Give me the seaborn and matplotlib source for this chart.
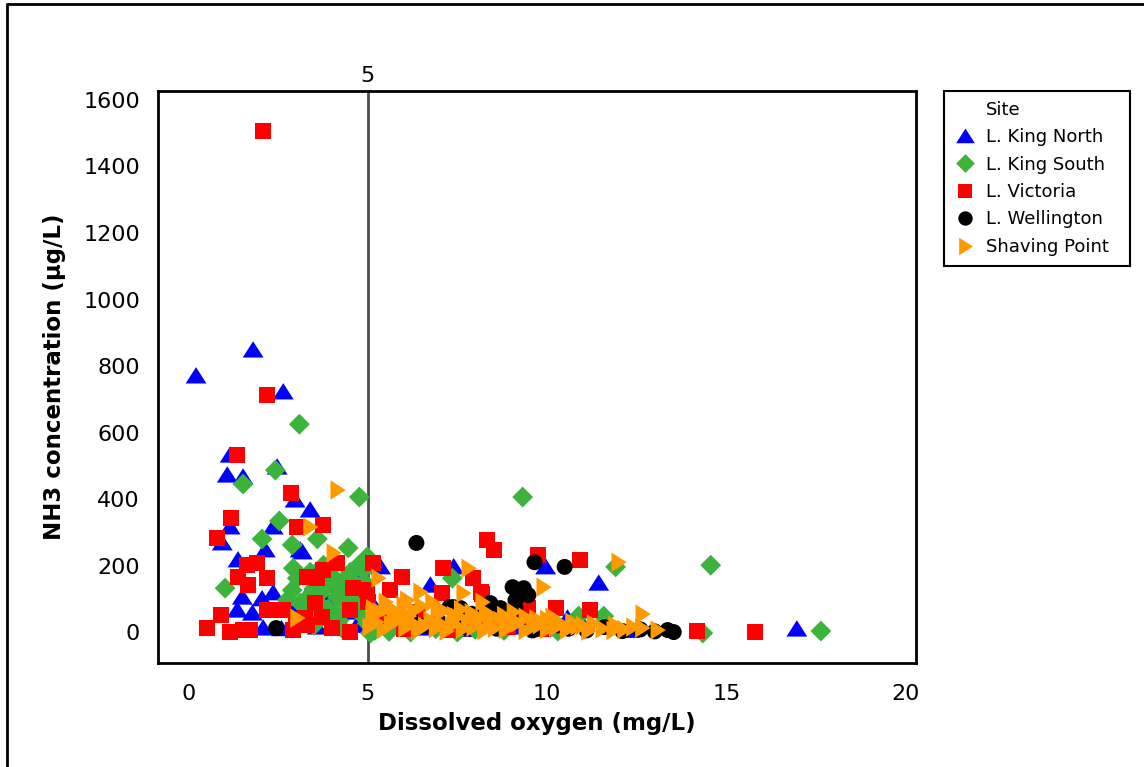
import matplotlib
matplotlib.use("Agg")
import matplotlib.pyplot as plt
from matplotlib.lines import Line2D
import pandas as pd
import seaborn as sns

# ---- data: dissolved oxygen (mg/L) and NH3 (ug/L) per site ----
sites = ["L. King North", "L. King South", "L. Victoria", "L. Wellington", "Shaving Point"]

kn_do = [0.22, 1.81, 2.65, 1.17, 1.09, 1.53, 2.48, 2.98, 3.40, 1.17, 2.37, 0.95, 2.15, 1.39,
         3.18, 1.51, 1.37, 2.06, 2.37, 1.79, 2.09, 3.40, 4.02, 4.80, 5.36, 7.40, 6.75, 9.96,
         11.44, 16.96, 10.57, 3.12, 4.04, 2.60, 3.00, 3.60, 4.40, 4.70, 5.20, 6.00, 6.50, 7.00,
         7.80, 8.50, 9.20, 10.20, 11.00, 12.30, 2.80, 3.90]
kn_nh3 = [770, 848, 722, 532, 472, 466, 496, 397, 367, 316, 316, 268, 247, 217,
          241, 105, 66, 100, 118, 57, 12, 126, 147, 165, 196, 196, 141, 196,
          147, 9, 42, 247, 141, 10, 30, 15, 60, 20, 75, 25, 12, 30,
          8, 20, 15, 10, 22, 5, 80, 90]

ks_do = [3.10, 2.43, 1.53, 4.77, 9.32, 2.54, 2.06, 2.90, 3.60, 4.46, 1.03, 2.93, 7.36, 14.56,
         11.91, 17.63, 14.34, 10.88, 11.58, 3.04, 2.90, 3.88, 4.71, 4.99, 4.43, 4.16, 4.43, 3.12,
         2.76, 3.68, 4.80, 3.49, 4.04, 4.99, 5.08, 3.77, 4.52, 4.88, 3.30, 3.90, 4.20, 4.60,
         3.50, 4.30, 5.30, 5.50, 6.20, 6.90, 7.50, 8.00, 8.80, 9.50, 10.30, 5.80,
         3.30, 3.50, 3.70, 3.90, 4.10, 4.30, 4.50, 4.70, 4.90, 3.40, 4.00, 4.60, 3.60, 4.20,
         4.80, 5.20, 5.60]
ks_nh3 = [625, 487, 445, 406, 406, 334, 280, 262, 280, 253, 132, 192, 162, 201,
          196, 3, -3, 48, 48, 162, 126, 196, 196, 226, 165, 105, 87, 87,
          96, 117, 105, 45, 27, 27, -3, 201, 180, 186, 60, 70, 140, 150,
          20, 10, 50, 15, 0, 10, 0, 8, 5, 12, 3, 40,
          100, 130, 80, 140, 60, 120, 100, 70, 150, 180, 170, 130, 40, 35,
          55, 5, 2]

vi_do = [2.09, 2.20, 1.37, 2.87, 1.20, 0.81, 3.04, 3.77, 1.65, 1.92, 1.39, 1.67, 2.20, 3.32,
         3.60, 3.77, 4.16, 5.16, 4.60, 4.99, 5.97, 7.09, 7.95, 8.34, 8.51, 9.74, 7.06, 8.15,
         0.92, 0.53, 1.17, 1.53, 1.73, 2.20, 2.65, 2.93, 3.54, 3.74, 4.02, 4.52, 4.52, 3.26,
         3.32, 5.02, 10.91, 8.20, 9.46, 10.24, 11.19, 14.17, 15.79, 5.63, 3.00, 5.40, 6.00, 6.80,
         7.30, 8.90, 9.90, 6.40]
vi_nh3 = [1507, 713, 532, 418, 343, 283, 316, 322, 201, 207, 165, 141, 162, 165,
          162, 186, 207, 207, 132, 126, 165, 192, 162, 277, 247, 232, 117, 120,
          51, 12, 0, 6, 6, 66, 66, 6, 87, 45, 12, 66, 0, 42,
          21, 90, 217, 114, 72, 72, 66, 3, 0, 126, 35, 40, 10, 25,
          5, 15, 8, 60]

we_do = [2.45, 6.36, 9.65, 10.49, 9.04, 9.35, 9.48, 9.12, 8.42, 7.28, 7.39, 7.59, 8.70, 9.12,
         13.53, 13.36, 6.20, 6.60, 7.00, 7.70, 8.10, 8.60, 9.00, 9.60, 10.10, 10.60, 11.10, 11.60,
         12.10, 12.60, 13.00, 8.30, 7.90, 9.30, 10.30]
we_nh3 = [12, 268, 210, 196, 135, 132, 111, 96, 87, 75, 75, 72, 72, 72,
          0, 6, 40, 20, 30, 15, 45, 10, 30, 5, 25, 10, 5, 15,
          3, 8, 2, 60, 55, 40, 20]

sp_do = [4.16, 3.40, 4.05, 5.30, 7.81, 6.47, 7.67, 9.90, 3.04, 5.13, 5.50, 8.20, 11.99, 12.66,
         13.08, 6.10, 6.80, 5.72, 9.07, 10.15, 5.05, 5.25, 5.45, 5.65, 5.85, 6.05, 6.25, 6.40,
         6.60, 6.75, 6.90, 7.05, 7.20, 7.35, 7.50, 7.65, 7.80, 7.95, 8.10, 8.25, 8.40, 8.55,
         8.70, 8.85, 9.00, 9.20, 9.40, 9.60, 9.80, 10.00, 10.25, 10.55, 10.85, 11.15, 11.55, 11.85,
         12.15, 12.65, 5.35, 5.80, 6.30, 6.95, 7.40, 7.90, 8.45, 9.10, 9.70, 10.40, 11.00, 6.15,
         7.10, 8.00, 5.15, 5.60, 6.00, 6.50, 7.00, 7.60, 8.30, 8.80, 9.40, 10.00, 10.70, 11.30,
         11.90, 12.40]
sp_nh3 = [427, 316, 238, 162, 192, 120, 117, 135, 42, 51, 90, 90, 210, 54,
          6, 96, 90, 45, 60, 45, 15, 30, 8, 22, 40, 12, 28, 5,
          18, 35, 10, 25, 3, 20, 45, 8, 30, 15, 40, 5, 22, 12,
          35, 8, 18, 28, 5, 15, 22, 8, 14, 6, 18, 3, 10, 5,
          8, 12, 60, 55, 65, 70, 50, 58, 45, 30, 40, 25, 20, 48,
          62, 28, 70, 75, 80, 78, 72, 68, 60, 50, 45, 38, 30, 25,
          20, 15]

x_ticks = [0, 5, 10, 15, 20]
y_ticks = [0, 200, 400, 600, 800, 1000, 1200, 1400, 1600]
do_limit = 5

site_do = [kn_do, ks_do, vi_do, we_do, sp_do]
site_nh3 = [kn_nh3, ks_nh3, vi_nh3, we_nh3, sp_nh3]
df = pd.concat(
    [pd.DataFrame({"Site": s, "DO": d, "NH3": n}) for s, d, n in zip(sites, site_do, site_nh3)],
    ignore_index=True,
)

# ---- marker styles (Minitab-like symbol set) ----
tri_up = [(-1.0, -0.72), (1.0, -0.72), (0.0, 0.85)]
diamond = [(0.0, 1.0), (1.0, 0.0), (0.0, -1.0), (-1.0, 0.0)]
tri_right = [(-0.72, -1.0), (-0.72, 1.0), (0.85, 0.0)]
styles = {
    "L. King North": dict(marker=tri_up, color="#0000FF", ms=15.0),
    "L. King South": dict(marker=diamond, color="#3CB43C", ms=15.0),
    "L. Victoria": dict(marker="s", color="#FF0000", ms=11.5),
    "L. Wellington": dict(marker="o", color="#000000", ms=11.5),
    "Shaving Point": dict(marker=tri_right, color="#FF9900", ms=14.0),
}

sns.set_style("white")
plt.rcParams["font.family"] = ["DejaVu Sans"]
plt.rcParams["text.color"] = "black"
plt.rcParams["axes.labelcolor"] = "black"
plt.rcParams["xtick.color"] = "black"
plt.rcParams["ytick.color"] = "black"

fig = plt.figure(figsize=(11.44, 7.67), dpi=100)
ax = fig.add_axes([158 / 1144, 1 - 663 / 767, (916 - 158) / 1144, (663 - 91) / 767])

for s in sites:
    st = styles[s]
    sns.scatterplot(data=df[df["Site"] == s], x="DO", y="NH3", ax=ax,
                    marker=st["marker"], color=st["color"], s=st["ms"] ** 2,
                    linewidth=0, edgecolor="none", legend=False)

ax.axvline(do_limit, color="#4D4D4D", lw=2, zorder=0.5)

ax.set_xlim(-0.84, 20.28)
ax.set_ylim(-93, 1627)
ax.set_xticks(x_ticks)
ax.set_yticks(y_ticks)

tick_size = 16
ax.set_xticklabels([str(v) for v in x_ticks], fontsize=tick_size)
ax.set_yticklabels([str(v) for v in y_ticks], fontsize=tick_size)
ax.tick_params(axis="both", direction="out", length=8, width=1.3, color="black",
               labelcolor="black", pad=5)
ax.tick_params(axis="x", pad=7)

for sp in ax.spines.values():
    sp.set_color("black")
    sp.set_linewidth(2)

ax.set_xlabel("Dissolved oxygen (mg/L)", fontsize=16.5, fontweight="bold",
              color="black", labelpad=6)
ax.set_ylabel("NH3 concentration (µg/L)", fontsize=16.5, fontweight="bold",
              color="black", labelpad=12)

# reference line label above the plot area
ax.text(do_limit, 1.008, str(do_limit), transform=ax.get_xaxis_transform(),
        ha="center", va="bottom", fontsize=tick_size, color="black")

# legend with the group title aligned like an entry
handles = [Line2D([], [], linestyle="none", marker=None)]
labels = ["Site"]
for s in sites:
    st = styles[s]
    handles.append(Line2D([], [], linestyle="none", marker=st["marker"], color=st["color"],
                          markersize=st["ms"] * 0.9, markeredgewidth=0))
    labels.append(s + "  ")
leg = fig.legend(handles, labels, loc="upper left",
                 bbox_to_anchor=(944 / 1144, 1 - 91 / 767), fontsize=13,
                 frameon=True, fancybox=False, edgecolor="black", framealpha=1,
                 handlelength=1.2, handletextpad=0.55, labelspacing=0.52,
                 borderpad=0.55, borderaxespad=0)
leg.get_frame().set_linewidth(1.5)
for t in leg.get_texts():
    t.set_color("black")

# outer frame of the graph window
fig.add_artist(Line2D([7 / 1144, 7 / 1144], [0, 1 - 4 / 767], color="black", lw=2,
                      transform=fig.transFigure))
fig.add_artist(Line2D([7 / 1144, 1], [1 - 4 / 767, 1 - 4 / 767], color="black", lw=2,
                      transform=fig.transFigure))

fig.savefig("out.png", dpi=100)
